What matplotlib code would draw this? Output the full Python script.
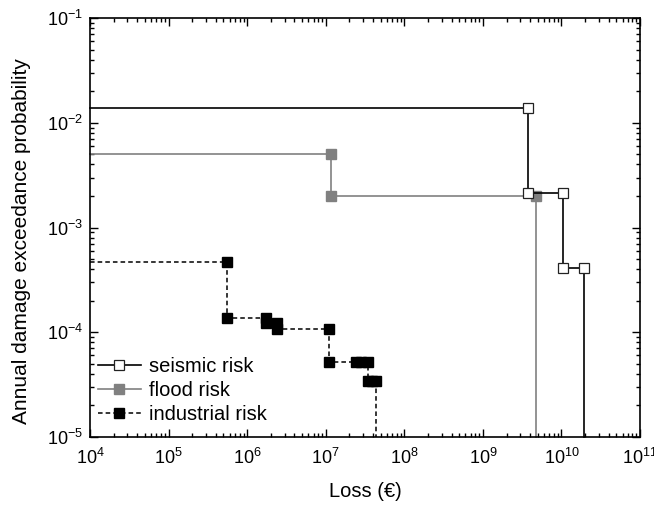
import matplotlib.pyplot as plt
from matplotlib.ticker import LogLocator, NullFormatter

plt.rcParams['font.family'] = ['Liberation Sans', 'DejaVu Sans']
plt.rcParams['mathtext.fontset'] = 'custom'
plt.rcParams['mathtext.rm'] = 'Liberation Sans'

# step curves (loss in EUR, annual exceedance probability)
seismic_loss = [1e4, 3.8e9, 3.8e9, 1.05e10, 1.05e10, 1.95e10, 1.95e10]
seismic_prob = [1.38e-2, 1.38e-2, 2.13e-3, 2.13e-3, 4.1e-4, 4.1e-4, 1e-5]

flood_loss = [1e4, 1.18e7, 1.18e7, 4.8e9, 4.8e9]
flood_prob = [5.05e-3, 5.05e-3, 2.02e-3, 2.02e-3, 1e-5]

industrial_loss = [1e4, 5.6e5, 5.6e5, 1.75e6, 1.75e6, 2.4e6, 2.4e6, 1.1e7, 1.1e7,
                   2.4e7, 2.8e7, 3.5e7, 3.5e7, 3.9e7, 4.4e7, 4.4e7]
industrial_prob = [4.7e-4, 4.7e-4, 1.38e-4, 1.38e-4, 1.22e-4, 1.22e-4, 1.07e-4, 1.07e-4, 5.2e-5,
                   5.2e-5, 5.2e-5, 5.2e-5, 3.4e-5, 3.4e-5, 3.4e-5, 1e-5]

fig = plt.figure(figsize=(6.54, 5.09), dpi=100)
ax = fig.add_axes([0.1376, 0.1415, 0.841, 0.823])

ax.plot(seismic_loss, seismic_prob, color='black', lw=1.2, marker='s', ms=7,
        mfc='white', mec='#222222', mew=0.9, markevery=list(range(1, 6)),
        label='seismic risk', clip_on=False, zorder=3)
ax.plot(flood_loss, flood_prob, color='#808080', lw=1.2, marker='s', ms=7,
        mfc='#808080', mec='#808080', markevery=[1, 2, 3],
        label='flood risk', clip_on=False, zorder=2)
ax.plot(industrial_loss, industrial_prob, color='black', lw=1.1, ls=(0, (3, 2)),
        marker='s', ms=7, mfc='black', mec='black',
        markevery=list(range(1, 15)), label='industrial risk', clip_on=False, zorder=4)

ax.set_xscale('log')
ax.set_yscale('log')
ax.set_xlim(1e4, 1e11)
ax.set_ylim(1e-5, 1e-1)

ax.xaxis.set_major_locator(LogLocator(base=10, numticks=20))
ax.xaxis.set_minor_locator(LogLocator(base=10, subs=range(2, 10), numticks=20))
ax.yaxis.set_minor_locator(LogLocator(base=10, subs=range(2, 10), numticks=20))
ax.xaxis.set_minor_formatter(NullFormatter())
ax.yaxis.set_minor_formatter(NullFormatter())

ax.tick_params(which='both', direction='in', top=True, right=True, labelsize=13, width=1)
ax.tick_params(which='major', length=6)
ax.tick_params(which='minor', length=3)
ax.tick_params(axis='x', pad=8)
ax.tick_params(axis='y', pad=5)
for s in ax.spines.values():
    s.set_linewidth(1.2)

ax.set_xlabel('Loss (€)', fontsize=14.5, labelpad=10)
ax.set_ylabel('Annual damage exceedance probability', fontsize=15)
ax.yaxis.set_label_coords(-0.108, 0.468)

ax.legend(loc='lower left', frameon=False, fontsize=14.5, handlelength=2.1,
          borderpad=0, borderaxespad=0, labelspacing=0.25, handletextpad=0.4,
          bbox_to_anchor=(0.015, 0.03))

fig.savefig('out.png', dpi=100)
